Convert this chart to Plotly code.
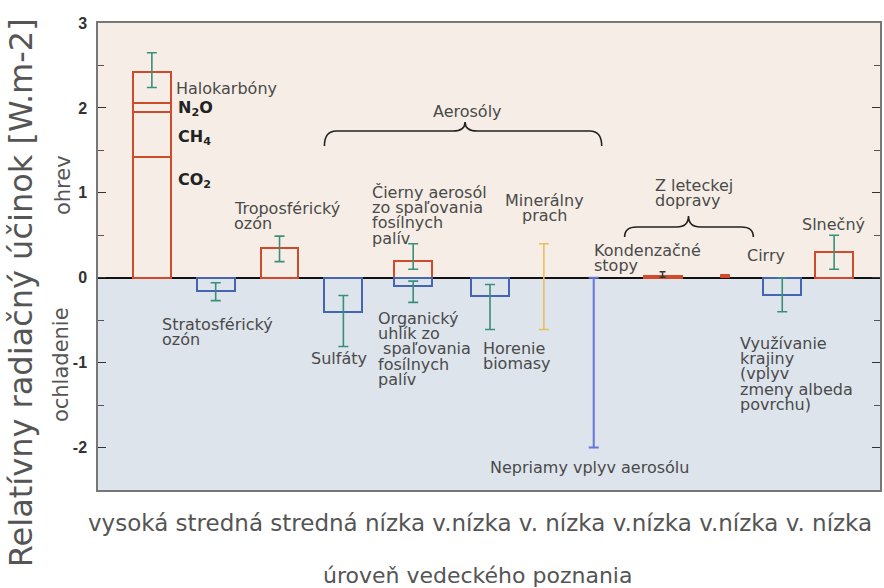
import plotly.graph_objects as go

# ---------------- data ----------------
ghg_parts = ["CO<sub>2</sub>", "CH<sub>4</sub>", "N<sub>2</sub>O", "Halokarbóny"]
ghg_values = [1.42, 0.53, 0.11, 0.36]
ghg_err = [2.24, 2.65]

pos_names = ["Troposférický ozón", "Čierny aerosól", "Slnečný"]
pos_values = [0.35, 0.20, 0.30]
pos_low = [0.19, 0.10, 0.10]
pos_high = [0.49, 0.40, 0.50]

neg_names = ["Stratosférický ozón", "Sulfáty", "Organický uhlík", "Horenie biomasy", "Využívanie krajiny"]
neg_values = [-0.16, -0.40, -0.10, -0.21, -0.20]
neg_low = [-0.27, -0.81, -0.29, -0.61, -0.40]
neg_high = [-0.06, -0.21, -0.04, -0.08, 0.00]

contrail_value = [0.02]
contrail_range = [0.005, 0.07]
cirrus_value = [0.035]
dust_range = [-0.61, 0.40]
indirect_range = [-2.0, 0.0]

level_text = "vysoká stredná stredná nízka v.nízka v. nízka v.nízka v.nízka v. nízka"

# ---------------- geometry helpers (pixel -> axis units) ----------------
X0, PX_PER_X = 98, 64.0
Y0, PX_PER_Y = 277.7, 84.9
def fx(px):
    return (px - X0) / PX_PER_X
def fy(py):
    return (Y0 - py) / PX_PER_Y

ghg_x = fx(152)
pos_x = [fx(280), fx(414), fx(836)]
neg_x = [fx(216), fx(344), fx(414), fx(491), fx(784)]
contrail_x = fx(664)
cirrus_x = fx(727)
dust_x = fx(545)
indirect_x = fx(595)
BW = 38 / PX_PER_X

RED = "#cf4b2c"
BLUE = "#4565b0"
TEAL = "#3a8f7c"
TXT = "#4a4a4a"
FONT = "DejaVu Sans"
FS = 16

fig = go.Figure()

# greenhouse gas stack
bases = [sum(ghg_values[:i]) for i in range(len(ghg_values))]
fig.add_trace(go.Bar(x=[ghg_x] * 4, y=ghg_values, base=bases, width=BW,
                     marker=dict(color="rgba(0,0,0,0)", line=dict(color=RED, width=2)),
                     hoverinfo="skip", showlegend=False))
tot = sum(ghg_values)
fig.add_trace(go.Scatter(x=[ghg_x], y=[tot], mode="markers",
                         marker=dict(size=1, color="rgba(0,0,0,0)"),
                         error_y=dict(type="data", symmetric=False, array=[ghg_err[1] - tot],
                                      arrayminus=[tot - ghg_err[0]], color=TEAL, thickness=1.6, width=5),
                         showlegend=False, hoverinfo="skip"))

# positive bars
fig.add_trace(go.Bar(x=pos_x, y=pos_values, width=BW,
                     marker=dict(color="rgba(0,0,0,0)", line=dict(color=RED, width=2)),
                     error_y=dict(type="data", symmetric=False,
                                  array=[h - v for h, v in zip(pos_high, pos_values)],
                                  arrayminus=[v - l for l, v in zip(pos_low, pos_values)],
                                  color=TEAL, thickness=1.6, width=5),
                     showlegend=False, hoverinfo="skip"))

# negative bars
fig.add_trace(go.Bar(x=neg_x, y=neg_values, width=BW,
                     marker=dict(color="rgba(0,0,0,0)", line=dict(color=BLUE, width=2)),
                     error_y=dict(type="data", symmetric=False,
                                  array=[h - v for h, v in zip(neg_high, neg_values)],
                                  arrayminus=[v - l for l, v in zip(neg_low, neg_values)],
                                  color=TEAL, thickness=1.6, width=5),
                     showlegend=False, hoverinfo="skip"))

# contrails
fig.add_trace(go.Bar(x=[contrail_x], y=contrail_value, width=BW,
                     marker=dict(color=RED, line=dict(color=RED, width=2)),
                     error_y=dict(type="data", symmetric=False,
                                  array=[contrail_range[1] - contrail_value[0]],
                                  arrayminus=[contrail_value[0] - contrail_range[0]],
                                  color="#333", thickness=1.5, width=3),
                     showlegend=False, hoverinfo="skip"))
# cirrus
fig.add_trace(go.Bar(x=[cirrus_x], y=cirrus_value, width=9 / PX_PER_X,
                     marker=dict(color=RED, line=dict(color=RED, width=1)),
                     showlegend=False, hoverinfo="skip"))

# mineral dust range
dmid = (dust_range[0] + dust_range[1]) / 2
fig.add_trace(go.Scatter(x=[dust_x], y=[dmid], mode="markers",
                         marker=dict(size=1, color="rgba(0,0,0,0)"),
                         error_y=dict(type="data", array=[dust_range[1] - dmid],
                                      color="#e9bf5c", thickness=1.6, width=5),
                         showlegend=False, hoverinfo="skip"))
# indirect aerosol range
imid = (indirect_range[0] + indirect_range[1]) / 2
fig.add_trace(go.Scatter(x=[indirect_x], y=[imid], mode="markers",
                         marker=dict(size=1, color="rgba(0,0,0,0)"),
                         error_y=dict(type="data", array=[indirect_range[1] - imid],
                                      color="#6477dc", thickness=2, width=5),
                         showlegend=False, hoverinfo="skip"))

# ---------------- annotations ----------------
LS = 15.4
labels = [
    # text lines, left px, first-line py, anchor, color, weight
    (["Halokarbóny"], 175, 88, "left", TXT, "normal"),
    (["N<sub>2</sub>O"], 177, 108, "left", "#222", "bold"),
    (["CH<sub>4</sub>"], 177, 137, "left", "#222", "bold"),
    (["CO<sub>2</sub>"], 177, 180, "left", "#222", "bold"),
    (["Troposférický", "ozón"], 233, 208, "left", TXT, "normal"),
    (["Aerosóly"], 468, 111, "center", TXT, "normal"),
    (["Čierny aerosól", "zo spaľovania", "fosílnych", "palív"], 372, 192, "left", TXT, "normal"),
    (["Minerálny", "prach"], 546, 200, "center", TXT, "normal"),
    (["Z leteckej", "dopravy"], 655, 185, "left", TXT, "normal"),
    (["Kondenzačné", "stopy"], 594, 250, "left", TXT, "normal"),
    (["Cirry"], 748, 255, "left", TXT, "normal"),
    (["Slnečný"], 803, 224, "left", TXT, "normal"),
    (["Stratosférický", "ozón"], 161, 324, "left", TXT, "normal"),
    (["Sulfáty"], 311, 358, "left", TXT, "normal"),
    (["Organický", "uhlík zo", " spaľovania", "fosílnych", "palív"], 378, 318, "left", TXT, "normal"),
    (["Horenie", "biomasy"], 483, 348, "left", TXT, "normal"),
    (["Nepriamy vplyv aerosólu"], 490, 467, "left", TXT, "normal"),
    (["Využívanie", "krajiny", "(vplyv", "zmeny albeda", "povrchu)"], 741, 343, "left", TXT, "normal"),
]
for lines, lx, ly, anchor, col, wt in labels:
    for i, t in enumerate(lines):
        fig.add_annotation(x=fx(lx), y=fy(ly + i * LS), text=t, showarrow=False,
                           xanchor=anchor, yanchor="middle", xref="x", yref="y", borderpad=0,
                           font=dict(family=FONT, size=FS, color=col, weight=wt))

def paper_x(px):
    return (px - 98) / 784.0
def paper_y(py):
    return (490 - py) / 467.0

fig.add_annotation(x=paper_x(21), y=paper_y(293), xref="paper", yref="paper", text="Relatívny radiačný účinok [W.m-2]",
                   textangle=-90, showarrow=False, xanchor="center", yanchor="middle",
                   font=dict(family=FONT, size=32, color="#555"))
fig.add_annotation(x=paper_x(63), y=paper_y(185), xref="paper", yref="paper", text="ohrev",
                   textangle=-90, showarrow=False, xanchor="center", yanchor="middle",
                   font=dict(family=FONT, size=21, color="#555"))
fig.add_annotation(x=paper_x(61), y=paper_y(365), xref="paper", yref="paper", text="ochladenie",
                   textangle=-90, showarrow=False, xanchor="center", yanchor="middle",
                   font=dict(family=FONT, size=21, color="#555"))
fig.add_annotation(x=paper_x(481), y=paper_y(523), xref="paper", yref="paper", text=level_text,
                   showarrow=False, xanchor="center", yanchor="middle",
                   font=dict(family=FONT, size=23, color="#555"))
fig.add_annotation(x=paper_x(478), y=paper_y(575), xref="paper", yref="paper", text="úroveň vedeckého poznania",
                   showarrow=False, xanchor="center", yanchor="middle",
                   font=dict(family=FONT, size=22, color="#555"))

# ---------------- braces ----------------
def brace(x0p, x1p, xcp, ytop_p, ybot_p, ypeak_p):
    x0, x1, xc = fx(x0p), fx(x1p), fx(xcp)
    yt, yb, yp = fy(ytop_p), fy(ybot_p), fy(ypeak_p)
    r = 12 / PX_PER_X
    return (f"M {x0},{yb} Q {x0},{yt} {x0 + r},{yt} L {xc - r},{yt} "
            f"Q {xc},{yt} {xc},{yp} Q {xc},{yt} {xc + r},{yt} L {x1 - r},{yt} "
            f"Q {x1},{yt} {x1},{yb}")

shapes = [
    dict(type="rect", xref="paper", yref="y", x0=0, x1=1, y0=0, y1=3,
         fillcolor="#f6eee6", line=dict(width=0), layer="below"),
    dict(type="rect", xref="paper", yref="y", x0=0, x1=1, y0=-2.5, y1=0,
         fillcolor="#dde4ec", line=dict(width=0), layer="below"),
    dict(type="path", xref="x", yref="y", path=brace(325, 603, 466, 131, 146, 122),
         line=dict(color="#222", width=1.6)),
    dict(type="path", xref="x", yref="y", path=brace(626, 755, 690, 227, 237, 216),
         line=dict(color="#222", width=1.6)),
]

fig.update_layout(
    width=884, height=588,
    margin=dict(l=98, r=2, t=23, b=98),
    paper_bgcolor="white", plot_bgcolor="rgba(0,0,0,0)",
    barmode="overlay", bargap=0,
    shapes=shapes,
    xaxis=dict(range=[0, 784 / PX_PER_X], showgrid=False, zeroline=False, showticklabels=False,
               ticks="", showline=True, mirror=True, linecolor="#777", linewidth=1.5, fixedrange=True),
    yaxis=dict(range=[-2.5, 3], showgrid=False, zeroline=True, zerolinecolor="#111", zerolinewidth=1.5,
               tickvals=[-2, -1, 0, 1, 2, 3], ticktext=["-2", "-1", "0", "1", "2", "3"],
               ticks="inside", ticklen=8, tickcolor="#333", tickwidth=1.2,
               minor=dict(dtick=0.5, ticks="inside", ticklen=6, tickcolor="#555"),
               showline=True, mirror="ticks", linecolor="#777", linewidth=1.5,
               ticklabelstandoff=6,
               tickfont=dict(family="Liberation Sans", size=16, color="#333", weight="bold"),
               fixedrange=True),
    font=dict(family=FONT),
)

fig.write_html("out.html", config={"displayModeBar": False},
               post_script="document.body.style.margin='0px';document.body.style.overflow='hidden';")
